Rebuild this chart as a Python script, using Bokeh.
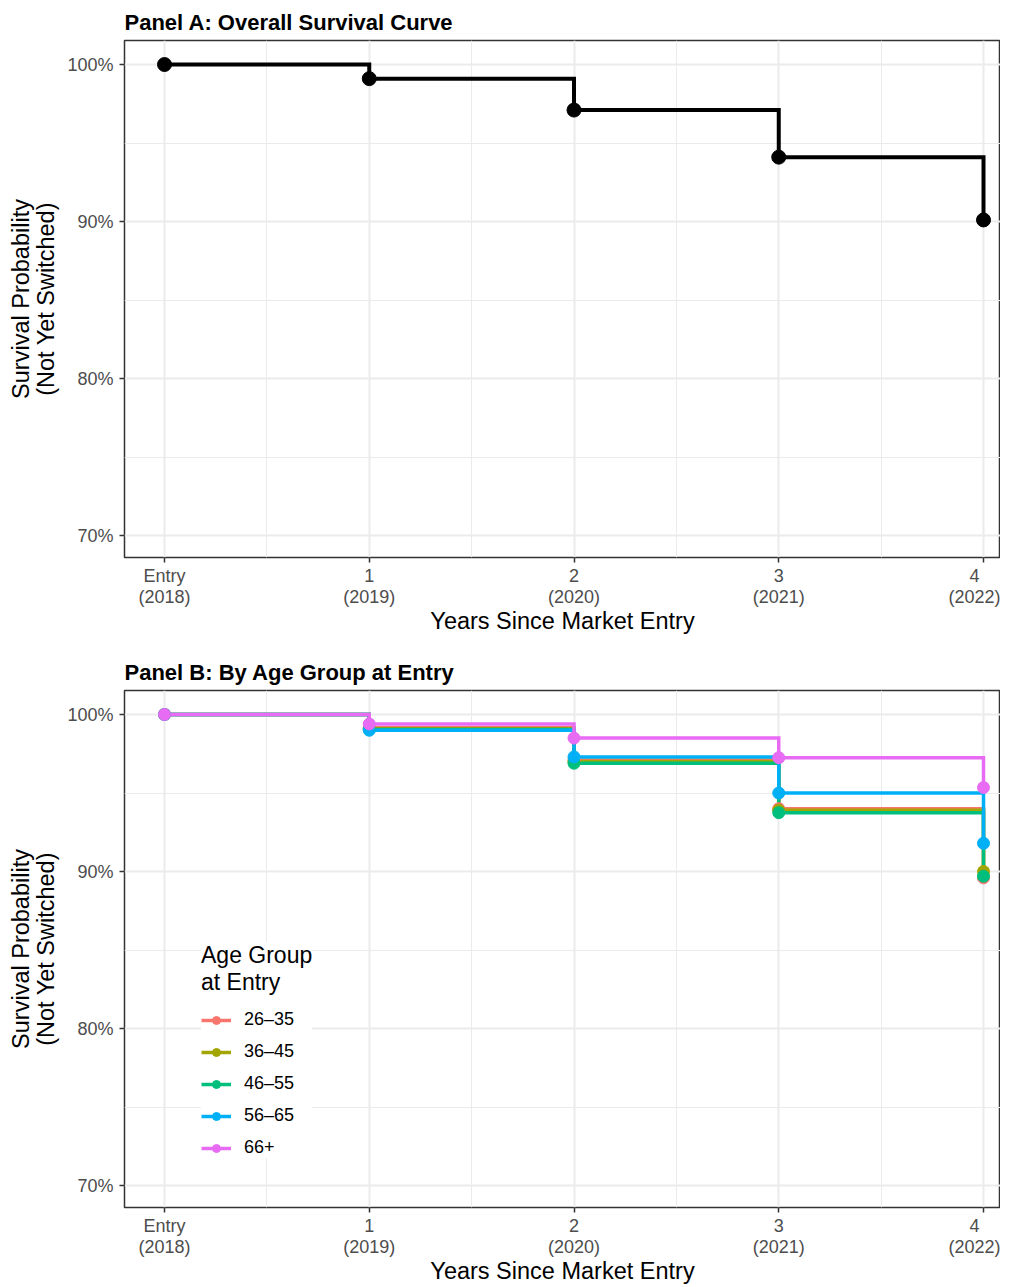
from bokeh.plotting import figure
from bokeh.layouts import column
from bokeh.models import FixedTicker, Range1d, Legend, LegendItem
from bokeh.embed import file_html
from bokeh.resources import INLINE

years = [0, 1, 2, 3, 4]
x_tick_labels = ["Entry\n(2018)", "1\n(2019)", "2\n(2020)", "3\n(2021)", "4\n(2022)"]
y_ticks = [0.7, 0.8, 0.9, 1.0]
y_tick_labels = ["70%", "80%", "90%", "100%"]

overall = [1.0, 0.991, 0.971, 0.941, 0.901]

groups = ["26\u201335", "36\u201345", "46\u201355", "56\u201365", "66+"]
g_26_35 = [1.0, 0.9915, 0.971, 0.940, 0.896]
g_36_45 = [1.0, 0.991, 0.970, 0.939, 0.900]
g_46_55 = [1.0, 0.9905, 0.969, 0.9375, 0.897]
g_56_65 = [1.0, 0.990, 0.973, 0.950, 0.918]
g_66p = [1.0, 0.994, 0.985, 0.9725, 0.9535]
group_values = [g_26_35, g_36_45, g_46_55, g_56_65, g_66p]
colors = ["#F8766D", "#A3A500", "#00BF7D", "#00B0F6", "#E76BF3"]

FONT = "Liberation Sans"


def make_fig(title, top_border, bottom_border):
    p = figure(frame_width=876, frame_height=517, min_border_left=124,
               min_border_right=0, min_border_top=top_border,
               min_border_bottom=bottom_border,
               x_range=Range1d(-0.1954, 4.083), y_range=Range1d(0.686, 1.0153),
               output_backend="svg", toolbar_location=None, title=title)
    p.title.text_font = FONT
    p.title.text_font_style = "bold"
    p.title.text_font_size = "22px"
    p.title.text_color = "#000000"
    p.title.standoff = 11
    p.background_fill_color = "white"
    p.border_fill_color = "white"
    p.outline_line_color = "#333333"
    p.outline_line_width = 1.5

    p.xaxis.ticker = FixedTicker(ticks=years, minor_ticks=[0.5, 1.5, 2.5, 3.5])
    p.yaxis.ticker = FixedTicker(ticks=y_ticks, minor_ticks=[0.75, 0.85, 0.95])
    p.xaxis.major_label_overrides = {y: l for y, l in zip(years, x_tick_labels)}
    p.yaxis.major_label_overrides = {y: l for y, l in zip(y_ticks, y_tick_labels)}
    for ax in (p.xaxis, p.yaxis):
        ax.axis_line_color = None
        ax.major_tick_line_color = "#333333"
        ax.major_tick_line_width = 1.5
        ax.major_tick_out = 5
        ax.major_tick_in = 0
        ax.minor_tick_line_color = None
        ax.major_label_text_font = FONT
        ax.major_label_text_font_size = "18px"
        ax.major_label_text_color = "#4D4D4D"
        ax.major_label_text_line_height = 1.05
        ax.axis_label_text_font = FONT
        ax.axis_label_text_font_size = "23.5px"
        ax.axis_label_text_font_style = "normal"
        ax.axis_label_text_color = "#000000"
        ax.axis_label_text_line_height = 0.98
    p.xaxis.major_label_standoff = 3
    p.yaxis.major_label_standoff = 6
    p.xaxis.axis_label = "Years Since Market Entry"
    p.yaxis.axis_label = "Survival Probability\n(Not Yet Switched)"
    p.xaxis.axis_label_standoff = -2
    p.yaxis.axis_label_standoff = 5
    for g in (p.xgrid, p.ygrid):
        g.grid_line_color = "#EBEBEB"
        g.grid_line_width = 2
        g.minor_grid_line_color = "#EBEBEB"
        g.minor_grid_line_width = 1
    p.xgrid.ticker = FixedTicker(ticks=years, minor_ticks=[0.5, 1.5, 2.5, 3.5])
    p.ygrid.ticker = FixedTicker(ticks=y_ticks, minor_ticks=[0.75, 0.85, 0.95])
    return p


pA = make_fig("Panel A: Overall Survival Curve", 40, 93)
pA.step(years, overall, mode="after", line_color="black", line_width=4,
        line_join="miter")
pA.scatter(years, overall, size=14, color="black")

pB = make_fig("Panel B: By Age Group at Entry", 40, 76)
line_rs = []
for vals, c in zip(group_values, colors):
    line_rs.append(pB.step(years, vals, mode="after", line_color=c, line_width=3.5,
                           line_join="miter"))
pt_rs = []
for vals, c in zip(group_values, colors):
    pt_rs.append(pB.scatter(years, vals, size=12, color=c))

items = [LegendItem(label=g, renderers=[lr, pr]) for g, lr, pr in zip(groups, line_rs, pt_rs)]
legend = Legend(items=items, location=(77, 49), title="Age Group\nat Entry")
legend.title_text_font = FONT
legend.title_text_font_size = "23px"
legend.title_text_font_style = "normal"
legend.title_text_color = "#000000"
legend.title_standoff = 13
legend.label_text_font = FONT
legend.label_text_font_size = "18px"
legend.label_text_color = "#000000"
legend.glyph_width = 30
legend.glyph_height = 20
legend.label_height = 20
legend.spacing = 11
legend.label_standoff = 13
legend.padding = 8
legend.margin = 0
legend.border_line_color = None
legend.background_fill_color = "white"
legend.background_fill_alpha = 1.0
pB.add_layout(legend, "center")

layout = column(pA, pB, spacing=0)
open("out.html", "w").write(file_html(layout, INLINE))
